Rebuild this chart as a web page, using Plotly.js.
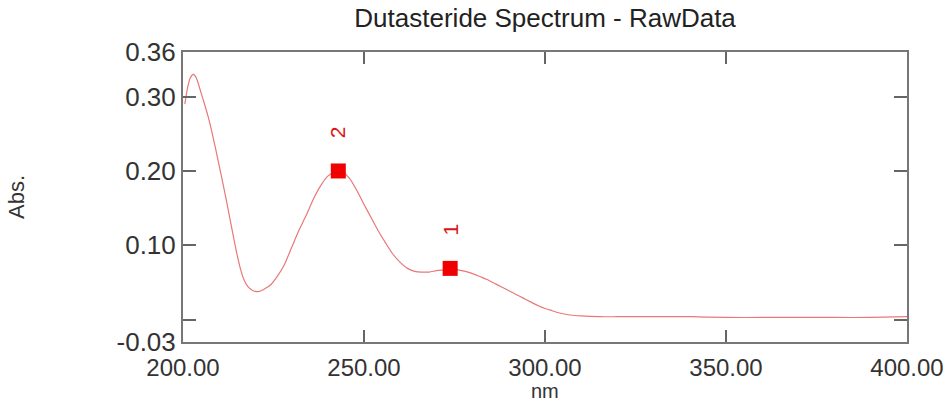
<!DOCTYPE html>
<html>
<head>
<meta charset="utf-8">
<script src="https://cdn.plot.ly/plotly-3.0.1.min.js"></script>
<style>html,body{margin:0;padding:0;background:#fff;}#chart{width:948px;height:405px;}</style>
</head>
<body>
<div id="chart"></div>
<script>
// Spectrum trace (nm, Abs.)
const wavelength = [200.5, 201.0, 201.5, 202.0, 202.8, 203.5, 204.0, 205.0, 206.0, 207.0, 208.0, 209.0, 210.0, 211.0, 212.0, 213.0, 214.0, 215.0, 216.0, 217.0, 218.0, 219.0, 220.0, 221.0, 222.0, 223.0, 224.0, 226.0, 228.0, 230.0, 232.0, 234.0, 236.0, 238.0, 240.0, 242.0, 243.0, 244.0, 246.0, 248.0, 250.0, 252.0, 254.0, 256.0, 258.0, 260.0, 262.0, 264.0, 266.0, 268.0, 270.0, 272.0, 274.0, 276.0, 278.0, 280.0, 282.0, 284.0, 286.0, 288.0, 290.0, 292.0, 294.0, 296.0, 298.0, 300.0, 302.0, 304.0, 306.0, 310.0, 315.0, 320.0, 330.0, 340.0, 350.0, 360.0, 370.0, 380.0, 390.0, 400.0];
const absorbance = [0.290, 0.305, 0.317, 0.325, 0.330, 0.327, 0.321, 0.305, 0.289, 0.272, 0.252, 0.230, 0.207, 0.184, 0.160, 0.135, 0.110, 0.086, 0.066, 0.052, 0.044, 0.040, 0.038, 0.038, 0.040, 0.043, 0.046, 0.058, 0.074, 0.097, 0.120, 0.140, 0.162, 0.180, 0.193, 0.199, 0.200, 0.199, 0.190, 0.174, 0.155, 0.137, 0.119, 0.103, 0.088, 0.077, 0.069, 0.065, 0.064, 0.064, 0.066, 0.067, 0.068, 0.067, 0.065, 0.062, 0.058, 0.054, 0.049, 0.044, 0.039, 0.034, 0.029, 0.024, 0.019, 0.015, 0.012, 0.009, 0.007, 0.005, 0.004, 0.004, 0.004, 0.004, 0.003, 0.003, 0.003, 0.003, 0.003, 0.004];

// Peak picks
const peakNm = [273.8, 242.9];
const peakAbs = [0.069, 0.200];
const peakLabels = ["1", "2"];

// Axis ticks and titles
const yTickVals = [-0.03, 0.0, 0.10, 0.20, 0.30, 0.36];
const yTickText = ["-0.03", "", "0.10", "0.20", "0.30", "0.36"];
const xTickVals = [200, 250, 300, 350, 400];
const xTickText = ["200.00", "250.00", "300.00", "350.00", "400.00"];
const xTitle = "nm";

const font = "Liberation Sans, Arial, sans-serif";

const traces = [
  {
    x: wavelength, y: absorbance, type: "scatter", mode: "lines",
    line: {color: "rgb(232,120,120)", width: 1.2, shape: "spline", smoothing: 0.6},
    hoverinfo: "skip", showlegend: false
  },
  {
    x: peakNm, y: peakAbs, type: "scatter", mode: "markers",
    marker: {symbol: "square", size: 15, color: "rgb(240,0,0)"},
    showlegend: false
  }
];

const annotations = peakNm.map((x, i) => ({
  x: x, y: peakAbs[i], xref: "x", yref: "y",
  text: peakLabels[i], showarrow: false, textangle: -90,
  yshift: 39, font: {family: font, size: 21, color: "rgb(220,20,20)"}
}));
// x-axis title placed below the tick labels
annotations.push({
  x: 0.5, y: -0.2138, xref: "paper", yref: "paper", xanchor: "center", yanchor: "bottom",
  text: xTitle, showarrow: false, font: {family: font, size: 20, color: "#333"}
});

const layout = {
  width: 948, height: 405,
  margin: {l: 183, r: 41, t: 52, b: 63},
  paper_bgcolor: "#fff", plot_bgcolor: "#fff",
  title: {text: "Dutasteride Spectrum - RawData", x: 0.575, xanchor: "center", y: 0.955, yanchor: "middle",
          font: {family: font, size: 26, color: "#222"}},
  xaxis: {
    range: [200, 400], tickvals: xTickVals, ticktext: xTickText,
    ticks: "inside", ticklen: 12, tickwidth: 2, tickcolor: "#666",
    showline: true, linecolor: "#777", linewidth: 2, mirror: "ticks",
    showgrid: false, zeroline: false, ticklabelstandoff: 3, ticklabeloverflow: "allow",
    tickfont: {family: font, size: 24, color: "#333"}
  },
  yaxis: {
    range: [-0.03, 0.36], tickvals: yTickVals, ticktext: yTickText,
    ticks: "inside", ticklen: 13, tickwidth: 2, tickcolor: "#666",
    showline: true, linecolor: "#777", linewidth: 2, mirror: "ticks",
    showgrid: false, zeroline: false, ticklabeloverflow: "allow",
    tickfont: {family: font, size: 26, color: "#333"},
    title: {text: "Abs.", standoff: 86, font: {family: font, size: 22, color: "#333"}}
  },
  annotations: annotations
};

Plotly.newPlot("chart", traces, layout, {staticPlot: true, displayModeBar: false});
</script>
</body>
</html>
